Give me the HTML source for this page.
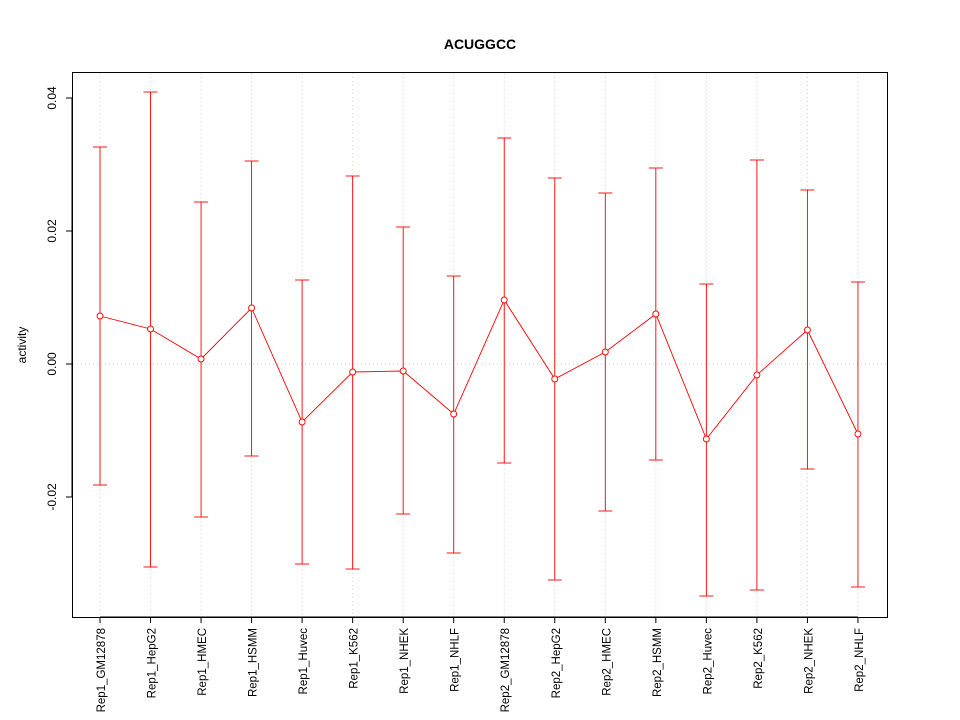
<!DOCTYPE html>
<html><head><style>body{margin:0;background:#fff}svg{display:block}</style></head><body>
<svg width="960" height="720" xmlns="http://www.w3.org/2000/svg" font-family="Liberation Sans, sans-serif">
<rect width="960" height="720" fill="#fff"/>
<text x="480" y="49" text-anchor="middle" font-weight="bold" font-size="14">ACUGGCC</text>
<g id="grid" stroke="#d3d3d3" stroke-dasharray="1,3" stroke-width="1"></g>
<rect x="72.5" y="72.5" width="815" height="545" fill="none" stroke="#000"/>
<g stroke="#000">
<line x1="72" y1="98" x2="72" y2="497"/>
<line x1="66" y1="98" x2="72" y2="98"/><line x1="66" y1="231" x2="72" y2="231"/>
<line x1="66" y1="364" x2="72" y2="364"/><line x1="66" y1="497" x2="72" y2="497"/>
</g>
<g font-size="12" text-anchor="middle">
<text transform="translate(56,98) rotate(-90)">0.04</text>
<text transform="translate(56,231) rotate(-90)">0.02</text>
<text transform="translate(56,364) rotate(-90)">0.00</text>
<text transform="translate(56,497) rotate(-90)">-0.02</text>
<text transform="translate(26,345) rotate(-90)">activity</text>
</g>
<g id="xa" stroke="#000"></g>
<g id="xl" font-size="11.5" text-anchor="end"></g>
<g id="d" stroke="#ff0000" fill="none" stroke-width="0.9"></g>
</svg>
<script>
var names=["Rep1_GM12878","Rep1_HepG2","Rep1_HMEC","Rep1_HSMM","Rep1_Huvec","Rep1_K562","Rep1_NHEK","Rep1_NHLF","Rep2_GM12878","Rep2_HepG2","Rep2_HMEC","Rep2_HSMM","Rep2_Huvec","Rep2_K562","Rep2_NHEK","Rep2_NHLF"];
var m=[316,329,359,308,422,372,371,414,300,379,352,314,439,375,330,434];
var u=[147,92,202,161,280,176,227,276,138,178,193,168,284,160,190,282];
var l=[485,567,517,456,564,569,514,553,463,580,511,460,596,590,469,587];
var ns="http://www.w3.org/2000/svg";
function el(p,t,a,txt){var e=document.createElementNS(ns,t);for(var k in a)e.setAttribute(k,a[k]);if(txt)e.textContent=txt;document.getElementById(p).appendChild(e);}
var pts=[];
for(var i=0;i<16;i++){var x=100+i*50.53;
el("grid","line",{x1:x,y1:73,x2:x,y2:617});
el("xa","line",{x1:x,y1:617,x2:x,y2:623});
el("xl","text",{transform:"translate("+(x+5)+",628) rotate(-90)"},names[i]);
el("d","line",{x1:x,y1:u[i],x2:x,y2:l[i]});
el("d","line",{x1:x-7,y1:u[i],x2:x+7,y2:u[i]});
el("d","line",{x1:x-7,y1:l[i],x2:x+7,y2:l[i]});
pts.push(x+","+m[i]);}
el("grid","line",{x1:73,y1:364,x2:887,y2:364});
el("xa","line",{x1:100,y1:617,x2:858,y2:617});
el("d","polyline",{points:pts.join(" ")});
for(var i=0;i<16;i++)el("d","circle",{cx:100+i*50.53,cy:m[i],r:3,fill:"#fff"});
</script>
</body></html>
